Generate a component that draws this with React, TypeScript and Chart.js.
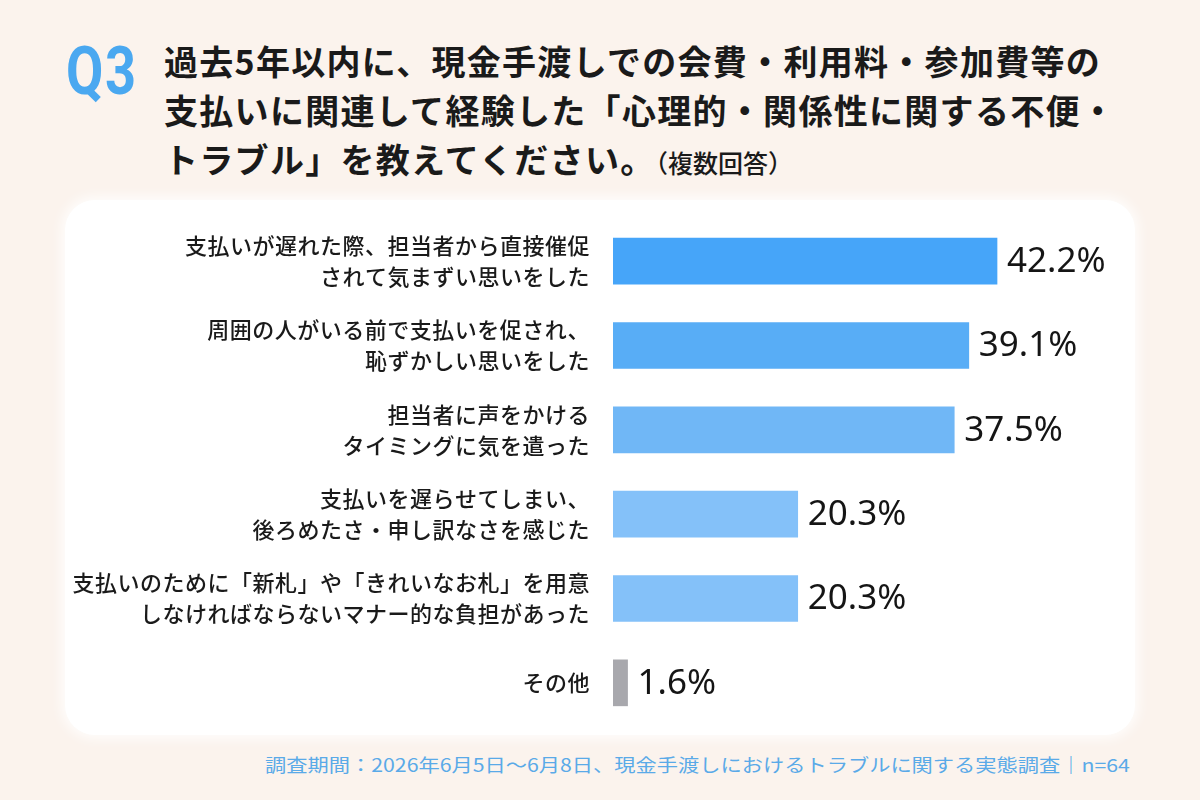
import React, { useEffect, useRef } from "react";
import { Chart, registerables } from "chart.js";

Chart.register(...registerables);

const categories: (string | string[])[] = [
  ["支払いが遅れた際、担当者から直接催促", "されて気まずい思いをした"],
  ["周囲の人がいる前で支払いを促され、", "恥ずかしい思いをした"],
  ["担当者に声をかける", "タイミングに気を遣った"],
  ["支払いを遅らせてしまい、", "後ろめたさ・申し訳なさを感じた"],
  ["支払いのために「新札」や「きれいなお札」を用意", "しなければならないマナー的な負担があった"],
  "その他",
];
const values = [42.2, 39.1, 37.5, 20.3, 20.3, 1.6];
const barColors = ["#46A5F9", "#58ADF6", "#70B7F6", "#84C1F9", "#84C1F9", "#A8A8AD"];
const titleLines = [
  "過去5年以内に、現金手渡しでの会費・利用料・参加費等の",
  "支払いに関連して経験した「心理的・関係性に関する不便・",
  "トラブル」を教えてください。",
];
const titleNote = "（複数回答）";
const footer = "調査期間：2026年6月5日～6月8日、現金手渡しにおけるトラブルに関する実態調査｜n=64";

const FONT = "'Noto Sans CJK JP', 'Noto Sans', sans-serif";

const spacingPlugin = {
  id: "tickSpacing",
  beforeDraw(chart: any) {
    (chart.ctx as any).letterSpacing = "0.5px";
  },
  afterDraw(chart: any) {
    (chart.ctx as any).letterSpacing = "0px";
  },
};

const valueLabelPlugin = {
  id: "valueLabels",
  afterDatasetsDraw(chart: any) {
    const ctx = chart.ctx;
    const meta = chart.getDatasetMeta(0);
    ctx.save();
    (ctx as any).letterSpacing = "0px";
    ctx.font = `400 35px 'Noto Sans', ${FONT}`;
    ctx.fillStyle = "#151515";
    ctx.textAlign = "left";
    ctx.textBaseline = "middle";
    meta.data.forEach((bar: any, i: number) => {
      ctx.fillText(values[i].toFixed(1) + "%", bar.x + 10, bar.y + 1);
    });
    ctx.restore();
  },
};

function BarChart() {
  const ref = useRef<HTMLCanvasElement>(null);
  useEffect(() => {
    if (!ref.current) return;
    const chart = new Chart(ref.current, {
      type: "bar",
      data: {
        labels: categories,
        datasets: [
          {
            data: values,
            backgroundColor: barColors,
            barThickness: 46,
            borderWidth: 0,
          },
        ],
      },
      options: {
        indexAxis: "y",
        animation: false,
        responsive: false,
        maintainAspectRatio: false,
        layout: { padding: { top: 19, bottom: 10, left: 0, right: 67 } },
        plugins: { legend: { display: false }, tooltip: { enabled: false } },
        scales: {
          x: {
            min: 0,
            max: 50,
            display: false,
            grid: { display: false },
          },
          y: {
            grid: { display: false, drawTicks: false },
            border: { display: false },
            afterFit(scale: any) {
              scale.width = 548;
              scale.paddingTop = 0;
              scale.paddingBottom = 0;
            },
            ticks: {
              padding: 23,
              color: "#1a1a1a",
              font: { family: FONT, size: 22, weight: 500, lineHeight: 1.41 },
            },
          },
        },
      },
      plugins: [spacingPlugin, valueLabelPlugin],
    });
    return () => chart.destroy();
  }, []);
  return <canvas ref={ref} width={1070} height={535} style={{ position: "absolute", left: 0, top: 0 }} />;
}

export default function App() {
  return (
    <div
      style={{
        position: "fixed",
        left: 0,
        top: 0,
        width: 1200,
        height: 800,
        background: "#FBF3ED",
        fontFamily: FONT,
        overflow: "hidden",
      }}
    >
      <div
        style={{
          position: "absolute",
          left: 66,
          top: 32,
          fontSize: 66,
          fontWeight: 700,
          color: "#4AA8F0",
          fontFamily: "Roboto, 'Noto Sans', sans-serif",
          lineHeight: "80px",
          transform: "scaleX(0.82)",
          transformOrigin: "left top",
          letterSpacing: 2,
        }}
      >
        Q3
      </div>
      <div
        style={{
          position: "absolute",
          left: 164,
          top: 36,
          fontSize: 34,
          fontWeight: 700,
          color: "#1a1a1a",
          lineHeight: "49px",
          letterSpacing: 1.3,
          whiteSpace: "nowrap",
        }}
      >
        <div>{titleLines[0]}</div>
        <div>{titleLines[1]}</div>
        <div>
          {titleLines[2]}
          <span style={{ fontSize: 25, fontWeight: 500, letterSpacing: 0 }}>{titleNote}</span>
        </div>
      </div>
      <div
        style={{
          position: "absolute",
          left: 65,
          top: 200,
          width: 1070,
          height: 535,
          background: "#ffffff",
          borderRadius: 30,
          boxShadow: "0 0 12px 4px rgba(255,255,255,0.8)",
        }}
      >
        <BarChart />
      </div>
      <div
        style={{
          position: "absolute",
          right: 70,
          top: 751,
          fontSize: 18,
          color: "#5AAAE8",
          whiteSpace: "nowrap",
          transform: "scaleX(1.18)",
          transformOrigin: "right top",
        }}
      >
        {footer}
      </div>
    </div>
  );
}
